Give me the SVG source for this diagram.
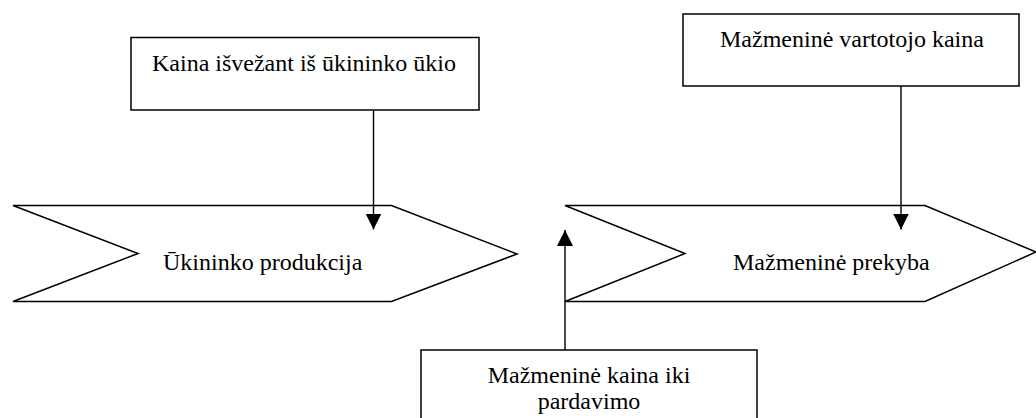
<svg xmlns="http://www.w3.org/2000/svg" width="1036" height="418" viewBox="0 0 1036 418">
<style>
.shape{fill:#fff;stroke:#000;stroke-width:1.5}
.box{fill:#fff;stroke:#000;stroke-width:1.5}
.lbl{font-family:"Liberation Serif","Times New Roman",serif;font-size:24px;fill:#000}
.conn{stroke:#000;stroke-width:1.4;fill:none}
</style>
<defs>
<marker id="ah" markerUnits="userSpaceOnUse" markerWidth="16" markerHeight="17" viewBox="0 0 16 17" refX="16" refY="8" orient="auto">
<path d="M0,0 L16,8 L0,16 Z" fill="#000"/>
</marker>
</defs>
<rect width="1036" height="418" fill="#fff"/>
<g id="node-ukininko-produkcija">
<polygon class="shape" points="13,205.5 391.5,205.5 517,254 391.5,301.5 13,301.5 138,253.5"/>
<text class="lbl" x="163" y="270">Ūkininko produkcija</text>
</g>
<g id="node-mazmenine-prekyba">
<polygon class="shape" points="565,205.5 925,205.5 1036,252 925,301.5 565,301.5 685,253.5"/>
<text class="lbl" x="733" y="270">Mažmeninė prekyba</text>
</g>
<g id="node-kaina-isvezant">
<rect class="box" x="131" y="37.5" width="348" height="72.5"/>
<text class="lbl" x="152" y="71">Kaina išvežant iš ūkininko ūkio</text>
</g>
<g id="node-mazmenine-vartotojo">
<rect class="box" x="683" y="14" width="336" height="72"/>
<text class="lbl" x="720" y="47">Mažmeninė vartotojo kaina</text>
</g>
<g id="node-mazmenine-kaina-iki">
<rect class="box" x="421" y="350" width="336" height="80"/>
<text class="lbl" x="589" y="383" text-anchor="middle">Mažmeninė kaina iki</text>
<text class="lbl" x="589" y="409" text-anchor="middle">pardavimo</text>
</g>
<g id="connectors">
<line class="conn" x1="373.5" y1="110" x2="373.5" y2="229.5" marker-end="url(#ah)"/>
<line class="conn" x1="901" y1="86" x2="901" y2="229.5" marker-end="url(#ah)"/>
<line class="conn" x1="565" y1="350" x2="565" y2="230" marker-end="url(#ah)"/>
</g>
</svg>
